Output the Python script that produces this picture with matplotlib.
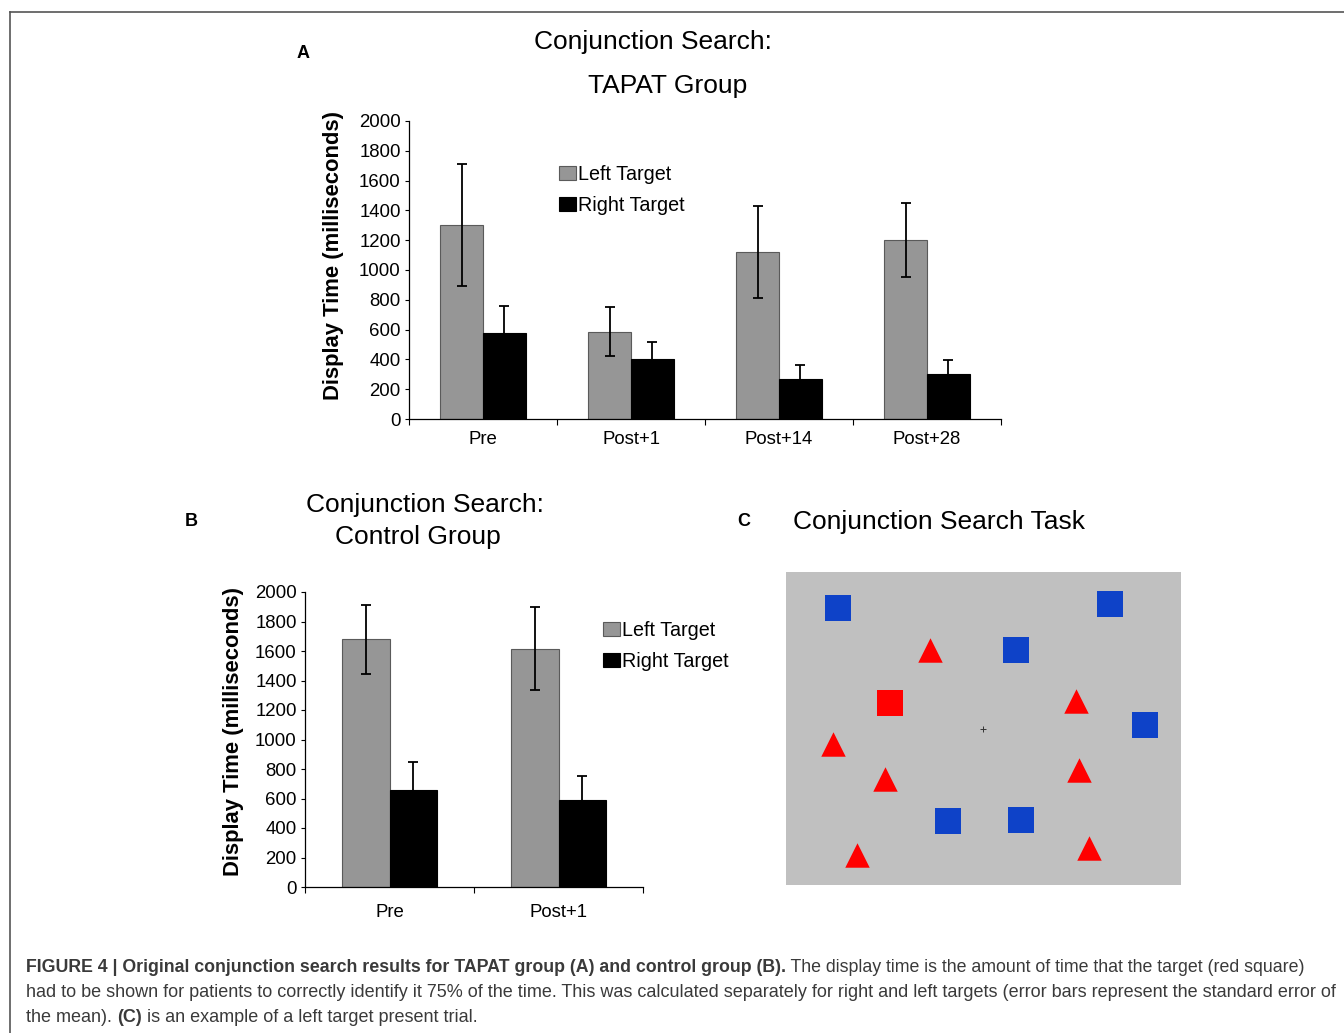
import matplotlib
matplotlib.use('Agg')
import matplotlib.pyplot as plt
from matplotlib import font_manager as fm
from matplotlib.lines import Line2D
import numpy as np

# ---------------- data ----------------
series_names = ['Left Target', 'Right Target']

tapat_sessions = ['Pre', 'Post+1', 'Post+14', 'Post+28']
tapat_left = [1300, 585, 1120, 1200]
tapat_left_se = [410, 165, 310, 250]
tapat_right = [577, 405, 268, 300]
tapat_right_se = [180, 115, 95, 95]

control_sessions = ['Pre', 'Post+1']
control_left = [1680, 1615]
control_left_se = [235, 280]
control_right = [655, 590]
control_right_se = [195, 160]

y_ticks = list(range(0, 2001, 200))

# panel C stimulus display (positions in display pixels)
display_w, display_h = 395, 313
blue_square_x = [52, 324, 230, 359, 162, 235]
blue_square_y = [36, 32, 78, 153, 249, 248]
red_triangle_x = [144, 290, 47, 99, 293, 71, 303]
red_triangle_y = [78, 129, 172, 207, 198, 283, 276]
red_square_x = [104]
red_square_y = [131]
fixation_x = [197]
fixation_y = [157]

# ---------------- style ----------------
W, H = 1344, 1033
plt.rcParams['font.family'] = ['Liberation Sans', 'DejaVu Sans']
names = {f.name for f in fm.fontManager.ttflist}
capfam = 'Liberation Sans Narrow' if 'Liberation Sans Narrow' in names else 'Liberation Sans'

GRAY = '#969696'
BLUE = '#0E42C8'
RED = '#FF0000'

def fx(px):
    return px / W

def fy(py):
    return 1 - py / H

fig = plt.figure(figsize=(W / 100, H / 100), dpi=100)


def bar_panel(ax, cats, left, lse, right, rse, width=0.29, xpad=9):
    x = np.arange(len(cats))
    ax.bar(x - width / 2, left, width, color=GRAY, edgecolor='#5a5a5a',
           linewidth=0.8, label=series_names[0], zorder=2)
    ax.errorbar(x - width / 2, left, yerr=lse, fmt='none', ecolor='black',
                elinewidth=1.3, capsize=3.5, capthick=1.3, zorder=3)
    ax.errorbar(x + width / 2, right, yerr=rse, fmt='none', ecolor='black',
                elinewidth=1.3, capsize=3.5, capthick=1.3, zorder=1.5)
    ax.bar(x + width / 2, right, width, color='black', edgecolor='black',
           linewidth=0.8, label=series_names[1], zorder=2)
    n = len(cats)
    ax.set_xlim(-0.5, n - 0.5)
    ax.set_ylim(0, 2000)
    ax.set_yticks(y_ticks)
    ax.tick_params(axis='y', direction='out', length=3, width=0.8,
                   labelsize=13.4, pad=3)
    ax.set_xticks(np.arange(n + 1) - 0.5)
    ax.set_xticklabels([])
    ax.tick_params(axis='x', which='major', direction='out', length=4, width=0.8)
    ax.set_xticks(np.arange(n), minor=True)
    ax.set_xticklabels(cats, minor=True)
    ax.tick_params(axis='x', which='minor', length=0, pad=xpad, labelsize=13.4)
    for s in ['top', 'right']:
        ax.spines[s].set_visible(False)
    for s in ['left', 'bottom']:
        ax.spines[s].set_linewidth(0.9)
    ax.set_facecolor('none')


def legend(ax, anchor):
    ax.legend(loc='upper left', bbox_to_anchor=anchor, frameon=False,
              fontsize=14.2, handlelength=0.85, handleheight=0.72,
              handletextpad=0.1, labelspacing=0.62, borderpad=0,
              borderaxespad=0)

# ---------------- panel A ----------------
axA = fig.add_axes([fx(409), fy(419), (1001 - 409) / W, (419 - 121) / H])
bar_panel(axA, tapat_sessions, tapat_left, tapat_left_se, tapat_right, tapat_right_se, xpad=9)
legend(axA, ((559 - 409) / 592, (419 - 161) / 298 - 0.012))
fig.text(fx(333), fy(255), 'Display Time (milliseconds)', rotation=90,
         ha='center', va='center', fontsize=15.8, fontweight='bold')
fig.text(fx(653), fy(42), 'Conjunction Search:', ha='center', va='center', fontsize=19)
fig.text(fx(668), fy(86), 'TAPAT Group', ha='center', va='center', fontsize=19)
fig.text(fx(303), fy(54), 'A', ha='center', va='center', fontsize=13, fontweight='bold')

# ---------------- panel B ----------------
axB = fig.add_axes([fx(305), fy(887), (643 - 305) / W, (887 - 592) / H])
bar_panel(axB, control_sessions, control_left, control_left_se, control_right, control_right_se,
          width=0.284, xpad=12)
legend(axB, ((603 - 305) / 338, (887 - 617) / 295 - 0.012))
fig.text(fx(233), fy(732), 'Display Time (milliseconds)', rotation=90,
         ha='center', va='center', fontsize=15.8, fontweight='bold')
fig.text(fx(425), fy(505), 'Conjunction Search:', ha='center', va='center', fontsize=19)
fig.text(fx(418), fy(537), 'Control Group', ha='center', va='center', fontsize=19)
fig.text(fx(191), fy(521), 'B', ha='center', va='center', fontsize=13, fontweight='bold')

# ---------------- panel C ----------------
axC = fig.add_axes([fx(786), fy(885), (1181 - 786) / W, (885 - 572) / H])
axC.set_facecolor('#c0c0c0')
axC.set_xlim(0, display_w)
axC.set_ylim(display_h, 0)
axC.set_xticks([])
axC.set_yticks([])
for s in axC.spines.values():
    s.set_visible(False)
axC.scatter(blue_square_x, blue_square_y, marker='s', s=350, color=BLUE, linewidths=0)
axC.scatter(red_square_x, red_square_y, marker='s', s=340, color=RED, linewidths=0)
axC.scatter(red_triangle_x, red_triangle_y, marker='^', s=310, color=RED, linewidths=0)
axC.plot(fixation_x, fixation_y, marker='+', markersize=4, color='#333333',
         markeredgewidth=0.7, linestyle='none')
fig.text(fx(793), fy(522), 'Conjunction Search Task', ha='left', va='center', fontsize=19)
fig.text(fx(744), fy(521), 'C', ha='center', va='center', fontsize=13, fontweight='bold')

# ---------------- frame lines ----------------
fig.add_artist(Line2D([fx(10), 1], [fy(12), fy(12)], transform=fig.transFigure,
                      color='#555555', lw=1.2))
fig.add_artist(Line2D([fx(10), fx(10)], [fy(12), 0], transform=fig.transFigure,
                      color='#555555', lw=1.2))

# ---------------- caption ----------------
cap_color = '#3a3a3a'
line1_bold = 'FIGURE 4 | Original conjunction search results for TAPAT group (A) and control group (B).'
line1_reg = ' The display time is the amount of time that the target (red square)'
line2 = ('had to be shown for patients to correctly identify it 75% of the time. This was calculated '
         'separately for right and left targets (error bars represent the standard error of')
line3a = 'the mean). '
line3b = '(C)'
line3c = ' is an example of a left target present trial.'

x0 = fx(26)
r = fig.canvas.get_renderer()
t2 = fig.text(x0, fy(997), line2, fontsize=12, va='baseline', ha='left',
              family=capfam, color=cap_color)
fig.canvas.draw()
w = t2.get_window_extent(r).width
cfs = 12 * (1335 - 26) / w
t2.set_fontsize(cfs)

# first line: fit its total width to the reference line length
t1a = fig.text(x0, fy(972), line1_bold, fontsize=12, va='baseline', ha='left',
               family=capfam, fontweight='bold', color=cap_color)
t1b = fig.text(x0, fy(972), line1_reg, fontsize=12, va='baseline', ha='left',
               family=capfam, color=cap_color)
fig.canvas.draw()
w1 = t1a.get_window_extent(r).width + t1b.get_window_extent(r).width
cfs1 = 12 * (1304 - 26) / w1
t1a.set_fontsize(cfs1)
t1b.set_fontsize(cfs1)
fig.canvas.draw()
e1 = t1a.get_window_extent(r)
t1b.set_x(e1.x1 / W)

t3a = fig.text(x0, fy(1022), line3a, fontsize=cfs, va='baseline', ha='left',
               family=capfam, color=cap_color)
fig.canvas.draw()
e3 = t3a.get_window_extent(r)
t3b = fig.text(e3.x1 / W, fy(1022), line3b, fontsize=cfs, va='baseline', ha='left',
               family=capfam, fontweight='bold', color=cap_color)
fig.canvas.draw()
e3b = t3b.get_window_extent(r)
fig.text(e3b.x1 / W, fy(1022), line3c, fontsize=cfs, va='baseline', ha='left',
         family=capfam, color=cap_color)

fig.savefig('out.png', dpi=100)
